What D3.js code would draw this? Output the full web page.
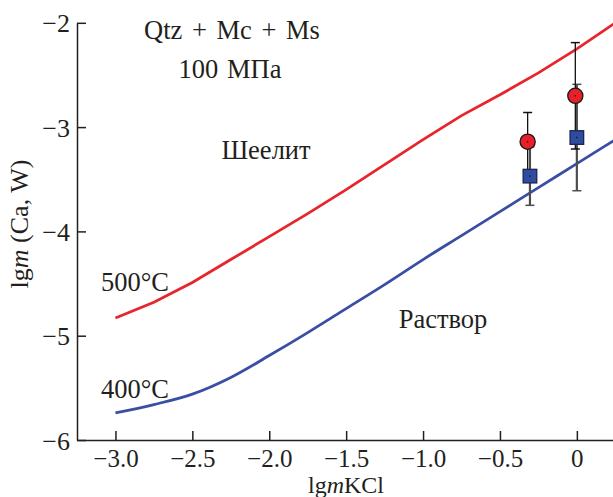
<!DOCTYPE html>
<html>
<head>
<meta charset="utf-8">
<script src="https://cdn.jsdelivr.net/npm/d3@7"></script>
<style>
body { margin: 0; background: #fff; }
svg { display: block; }
text { font-family: "Liberation Serif", "DejaVu Serif", serif; fill: #231f20; }
</style>
</head>
<body>
<div id="chart-area"></div>
<script>
// lg m KCl grid for both isotherms
var kcl = [-3.0, -2.75, -2.5, -2.25, -2.0, -1.75, -1.5, -1.25, -1.0, -0.75, -0.5, -0.25, 0, 0.25];
var w500 = [-4.83, -4.68, -4.49, -4.27, -4.05, -3.83, -3.60, -3.36, -3.12, -2.89, -2.69, -2.48, -2.25, -2.0];
var w400 = [-5.74, -5.66, -5.56, -5.40, -5.19, -4.97, -4.74, -4.51, -4.27, -4.04, -3.81, -3.58, -3.35, -3.12];

// experimental points: circles (Ca), squares (W)
var caX = [-0.32, -0.01];
var caY = [-3.14, -2.70];
var caErr = [0.28, 0.51];
var wX = [-0.305, 0.0];
var wY = [-3.47, -3.10];
var wErr = [0.28, 0.51];

var xTicks = [-3.0, -2.5, -2.0, -1.5, -1.0, -0.5, 0];
var yTicks = [-6, -5, -4, -3, -2];

var width = 613;
var height = 497;

var svg = d3.select("#chart-area").append("svg")
	.attr("width", width)
	.attr("height", height);

var x = d3.scaleLinear()
	.domain([-3.25, 0.235])
	.range([77, 613]);

var y = d3.scaleLinear()
	.domain([-6, -2])
	.range([440, 22.8]);

// axes
var bottomAxis = d3.axisBottom(x)
	.tickValues(xTicks)
	.tickSizeInner(-9)
	.tickSizeOuter(0)
	.tickPadding(9)
	.tickFormat((d)=>{return d === 0 ? "0" : d3.format(".1f")(d);});
var gx = svg.append("g")
	.attr("class", "bottom axis")
	.attr("transform", "translate(0," + y(-6) + ")")
	.call(bottomAxis);

var leftAxis = d3.axisLeft(y)
	.tickValues(yTicks)
	.tickSizeInner(-9)
	.tickSizeOuter(0)
	.tickPadding(7)
	.tickFormat(d3.format("d"));
var gy = svg.append("g")
	.attr("class", "left axis")
	.attr("transform", "translate(" + x(-3.25) + ",0)")
	.call(leftAxis);

svg.selectAll(".axis path, .axis line")
	.attr("stroke", "#231f20")
	.attr("stroke-width", 1.5);
svg.selectAll(".axis text")
	.attr("font-family", "Liberation Serif")
	.attr("font-size", "26px")
	.attr("fill", "#231f20");
gx.selectAll("text").attr("font-size", "25px");
gy.selectAll("text").attr("dy", "0.35em");

// isotherms
var line = d3.line()
	.x((d)=>{return x(d[0]);})
	.y((d)=>{return y(d[1]);});

svg.append("path")
	.datum(kcl.map((k, i)=>{return [k, w500[i]];}))
	.attr("d", line)
	.attr("fill", "none")
	.attr("stroke", "#e8242c")
	.attr("stroke-width", 2.8);

svg.append("path")
	.datum(kcl.map((k, i)=>{return [k, w400[i]];}))
	.attr("d", line.curve(d3.curveMonotoneX))
	.attr("fill", "none")
	.attr("stroke", "#3a4ea3")
	.attr("stroke-width", 2.8);

// error bars
function errorBars(xs, ys, es, color, sw) {
	var g = svg.append("g");
	xs.forEach((xv, i)=>{
		var cx = x(xv);
		var top = y(ys[i] + es[i]);
		var bot = y(ys[i] - es[i]);
		g.append("line").attr("x1", cx).attr("x2", cx).attr("y1", top).attr("y2", bot)
			.attr("stroke", color).attr("stroke-width", sw);
		[top, bot].forEach((yy)=>{
			g.append("line").attr("x1", cx - 4.5).attr("x2", cx + 4.5).attr("y1", yy).attr("y2", yy)
				.attr("stroke", color).attr("stroke-width", 1.5);
		});
	});
}
errorBars(wX, wY, wErr, "#4d4d4d", 2.2);
errorBars(caX, caY, caErr, "#111", 1.3);

// squares
wX.forEach((xv, i)=>{
	svg.append("rect")
		.attr("x", x(xv) - 6.8)
		.attr("y", y(wY[i]) - 6.8)
		.attr("width", 13.6)
		.attr("height", 13.6)
		.attr("fill", "#2f4da0")
		.attr("stroke", "#1b2550")
		.attr("stroke-width", 1.3);
	svg.append("circle")
		.attr("cx", x(xv)).attr("cy", y(wY[i])).attr("r", 0.8).attr("fill", "#111");
});

// circles
caX.forEach((xv, i)=>{
	svg.append("circle")
		.attr("cx", x(xv))
		.attr("cy", y(caY[i]))
		.attr("r", 7.6)
		.attr("fill", "#e8202a")
		.attr("stroke", "#1a1a1a")
		.attr("stroke-width", 1.3);
	svg.append("circle")
		.attr("cx", x(xv)).attr("cy", y(caY[i])).attr("r", 0.8).attr("fill", "#111");
});

// annotations
function label(tx, ty, s) {
	return svg.append("text")
		.attr("x", tx)
		.attr("y", ty)
		.attr("font-size", "26.5px")
		.attr("text-anchor", "middle")
		.text(s);
}
label(232, 39, "Qtz + Mc + Ms").attr("word-spacing", "3px");
label(230, 78, "100 МПа").attr("word-spacing", "2px");
label(266, 159, "Шеелит");
label(443, 328, "Раствор");
label(135, 291, "500°C");
label(135, 398, "400°C");

// axis titles
var xt = svg.append("text")
	.attr("x", 346)
	.attr("y", 493)
	.attr("font-size", "24px")
	.attr("text-anchor", "middle");
xt.append("tspan").text("lg");
xt.append("tspan").attr("font-style", "italic").text("m");
xt.append("tspan").text("KCl");

var yt = svg.append("text")
	.attr("transform", "translate(28,224) rotate(-90)")
	.attr("font-size", "26px")
	.attr("text-anchor", "middle");
yt.append("tspan").text("lg");
yt.append("tspan").attr("font-style", "italic").text("m");
yt.append("tspan").text(" (Ca, W)");
</script>
</body>
</html>
